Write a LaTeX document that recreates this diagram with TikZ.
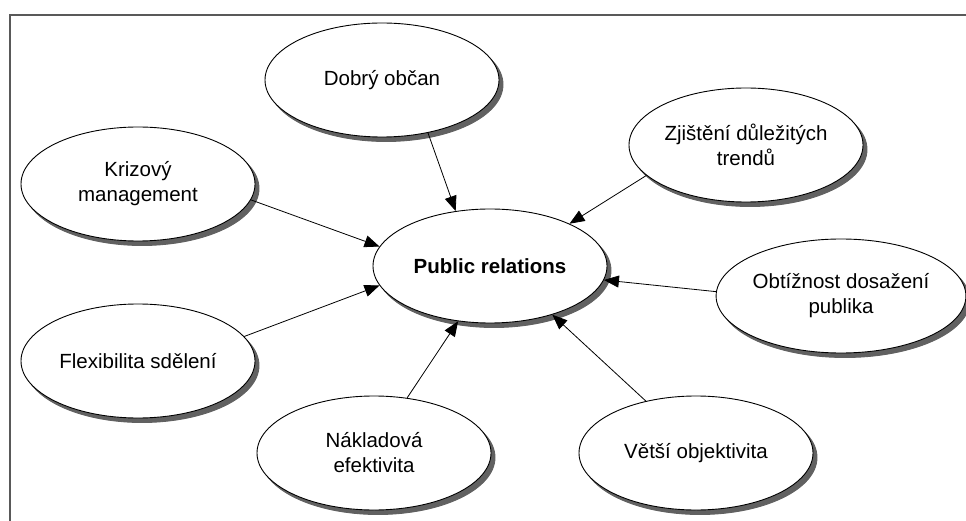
\documentclass[tikz,border=0pt]{standalone}
\usepackage{fontspec}
\setmainfont{Liberation Sans}
\usetikzlibrary{shapes.geometric,shadows,arrows.meta}
\tikzset{
  bub/.style={ellipse, draw=black, line width=0.9pt, fill=white, inner sep=0pt,
    minimum width=234pt, minimum height=114pt, align=center,
    font=\fontsize{20.5}{25}\selectfont,
    copy shadow={shadow xshift=4pt, shadow yshift=-4.5pt, fill=black!62, draw=black!62}},
  arr/.style={draw=black, line width=0.8pt, -{Triangle[length=15pt,width=12pt]}},
  frame/.style={draw=black!65, line width=1.6pt}
}
\begin{document}
\begin{tikzpicture}[x=1pt,y=-1pt]
\useasboundingbox (0,0) rectangle (966,521);
\draw[frame] (10,521) -- (10,15) -- (966,15);
\node[bub] (pr)  at (490,266) {\textbf{Public relations}};
\node[bub] (dob) at (382,80)  {Dobrý občan};
\node[bub] (kri) at (138,184) {Krizový\\management};
\node[bub] (zji) at (746,145) {Zjištění důležitých\\trendů};
\node[bub] (obt) at (841,296) {Obtížnost dosažení\\publika};
\node[bub] (fle) at (138,361) {Flexibilita sdělení};
\node[bub] (nak) at (374,453) {Nákladová\\efektivita};
\node[bub] (vet) at (696,453) {Větší objektivita};
\draw[arr] (dob.-49) -- (pr.122);
\draw[arr] (kri.-8) -- (pr.170);
\draw[arr] (zji.-163) -- (pr.28);
\draw[arr] (obt.178) -- (pr.-7);
\draw[arr] (fle.13) -- (pr.-170);
\draw[arr] (nak.59) -- (pr.-120);
\draw[arr] (vet.134) -- (pr.-38);
\end{tikzpicture}
\end{document}
